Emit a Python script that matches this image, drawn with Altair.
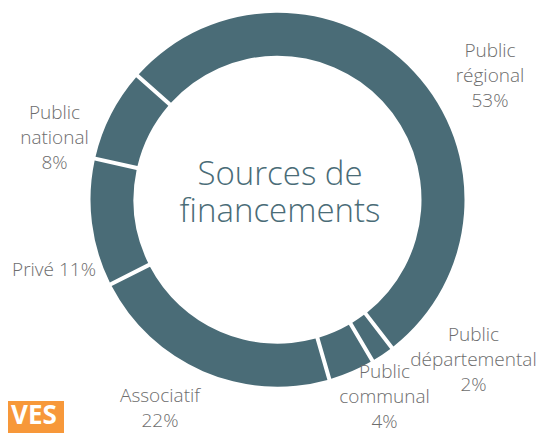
import math
import altair as alt
import pandas as pd

# ---- data ----
categories = ["Public régional", "Public départemental", "Public communal",
              "Associatif", "Privé", "Public national"]
values = [53, 2, 4, 22, 11, 8]
label_lines = ["Public\nrégional", "Public\ndépartemental", "Public\ncommunal",
               "Associatif", "Privé", "Public\nnational"]
label_joiners = ["\n", "\n", "\n", "\n", " ", "\n"]
center_lines = ["Sources de", "financements"]

# ---- layout (not data) ----
label_pos = [(482, 48.5), (465.5, 332.5), (376.5, 370), (152, 394), (46, 268), (46.5, 111)]
CX, CY = 269.5, 191.7
START = math.radians(-48.5)
TEAL = "#4a6c77"
GREY = "#6d6d6d"
FONT = "Open Sans"

df = pd.DataFrame({
    "category": categories,
    "value": values,
    "idx": list(range(len(categories))),
})

lab = pd.DataFrame({
    "text": [f"{n}{j}{v}%" for n, j, v in zip(label_lines, label_joiners, values)],
    "lx": [p[0] for p in label_pos],
    "ly": [p[1] for p in label_pos],
})

arcs = alt.Chart(df).mark_arc(
    outerRadius=187, innerRadius=144, padAngle=0.017, color=TEAL
).encode(
    theta=alt.Theta("value:Q", stack=True,
                    scale=alt.Scale(range=[START, START + 2 * math.pi])),
    order=alt.Order("idx:Q"),
    x=alt.value(CX),
    y=alt.value(CY),
)

labels = alt.Chart(lab).mark_text(
    font=FONT, fontWeight=300, fontSize=19, color=GREY, align="center",
    baseline="alphabetic", lineBreak="\n", lineHeight=25
).encode(
    x=alt.X("lx:Q", scale=None),
    y=alt.Y("ly:Q", scale=None),
    text="text:N",
)

title = alt.Chart(pd.DataFrame({"t": ["\n".join(center_lines)]})).mark_text(
    font=FONT, fontWeight=300, fontSize=33, color=TEAL, align="center",
    baseline="alphabetic", lineBreak="\n", lineHeight=37
).encode(
    x=alt.value(272), y=alt.value(177), text="t:N"
)

badge = alt.Chart(pd.DataFrame({"t": ["VES"]})).mark_rect(color="#f7983a").encode(
    x=alt.value(0), x2=alt.value(56), y=alt.value(393), y2=alt.value(425)
)
badge_text = alt.Chart(pd.DataFrame({"t": ["VES"]})).mark_text(
    font=FONT, fontWeight="bold", fontSize=26, color="white", align="left",
    baseline="alphabetic"
).encode(x=alt.value(3), y=alt.value(416), text="t:N")

chart = alt.layer(badge, badge_text, arcs, labels, title).properties(
    width=538, height=425, padding=0,
    autosize=alt.AutoSizeParams(type="fit", contains="padding"),
).configure_view(stroke=None)

chart.save("out.html", embed_options={"renderer": "svg", "actions": False})
